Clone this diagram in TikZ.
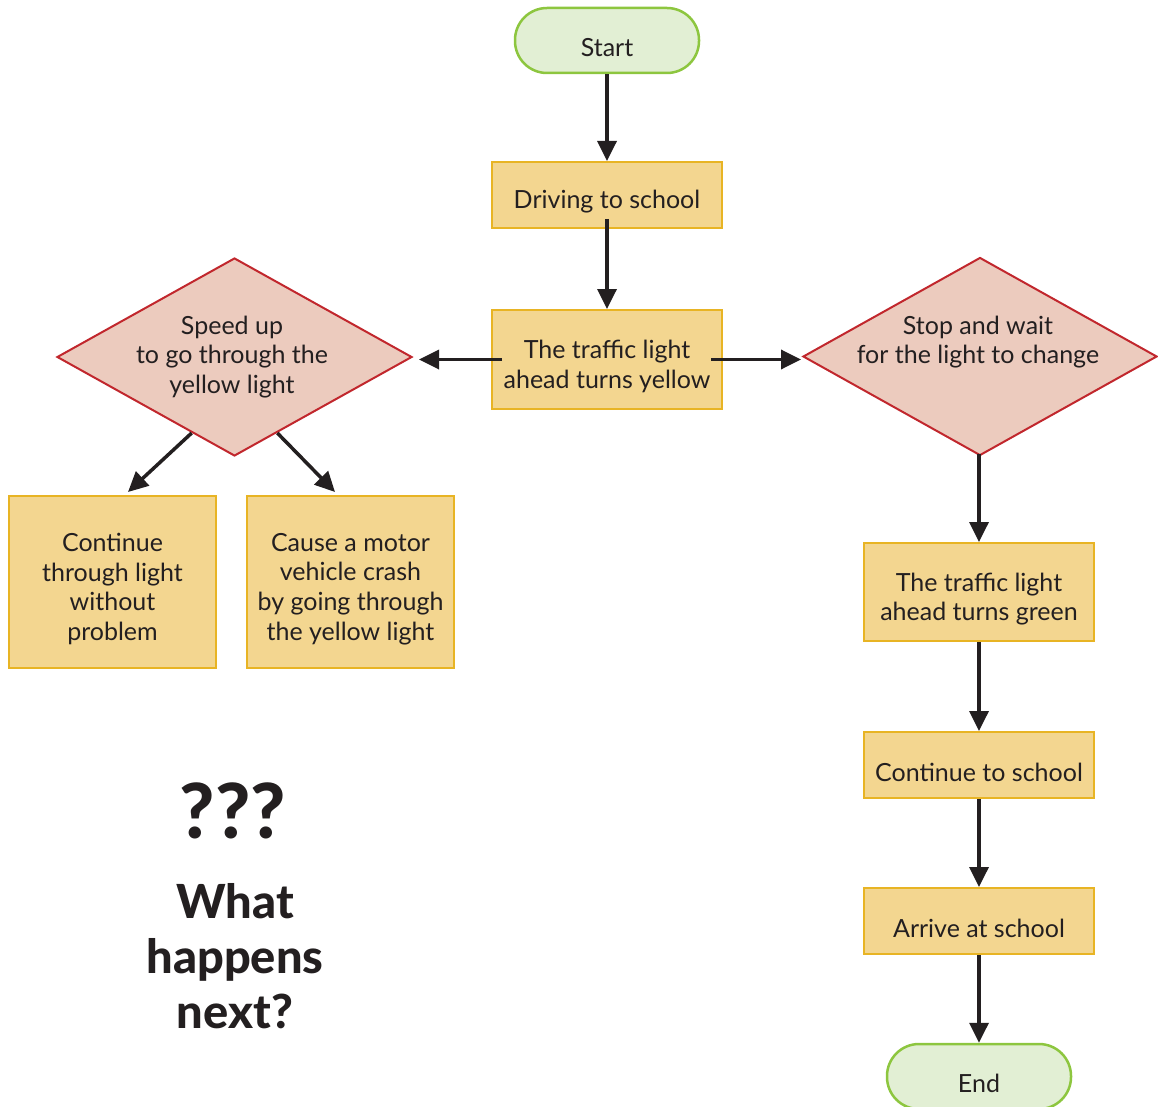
\documentclass[tikz,border=0pt]{standalone}
\usepackage{fontspec}
\setmainfont{Lato}
\newfontfamily\heavyfont{Lato Heavy}
\usetikzlibrary{shapes.geometric,arrows.meta,calc}
\definecolor{txt}{HTML}{231F20}
\definecolor{termfill}{HTML}{E2EFD4}
\definecolor{termline}{HTML}{8DC63F}
\definecolor{boxfill}{HTML}{F3D690}
\definecolor{boxline}{HTML}{E8B424}
\definecolor{diafill}{HTML}{ECCBBE}
\definecolor{dialine}{HTML}{C1272D}
\begin{document}
\begin{tikzpicture}[x=1pt,y=-1pt,
  every node/.style={text=txt, font=\fontsize{25}{29.7}\selectfont},
  lbl/.style={align=center, inner sep=0pt, yshift=-7pt},
  term/.style={draw=termline, fill=termfill, line width=2.5pt, rounded corners=32pt, minimum width=184pt, minimum height=65pt, inner sep=0pt},
  procbox/.style={draw=boxline, fill=boxfill, line width=2pt, minimum width=230pt, inner sep=0pt},
  decbox/.style={draw=dialine, fill=diafill, line width=2pt, diamond, inner sep=0pt, minimum width=355pt, minimum height=198pt},
  dtext/.style={align=center, inner sep=0pt},
  conn/.style={draw=txt, line width=3.5pt, -{Triangle[length=20pt,width=19pt]}},
  big/.style={font=\fontsize{47}{55}\heavyfont, align=center, inner sep=0pt}
]
\useasboundingbox (0,0) rectangle (1158,1107);

\node[term, label={[lbl]center:Start}] (start) at (607,40.5) {};
\node[procbox, minimum height=66pt, label={[lbl]center:Driving to school}] (drv) at (607,195) {};
\node[procbox, minimum height=99pt, label={[lbl]center:{The traffic light\\ahead turns yellow}}] (tly) at (607,359.5) {};

\node[decbox] (d1) at (234.5,357) {};
\node[dtext] (d1t) at (232,357) {Speed up\\to go through the\\yellow light};

\node[decbox, minimum width=354pt] (d2) at (980,356.5) {};
\node[dtext] (d2t) at (978,342) {Stop and wait\\for the light to change};

\node[procbox, minimum width=207pt, minimum height=172pt, label={[lbl]center:{Continue\\through light\\without\\problem}}] (c1) at (112.5,582) {};
\node[procbox, minimum width=207pt, minimum height=172pt, label={[lbl]center:{Cause a motor\\vehicle crash\\by going through\\the yellow light}}] (c2) at (350.5,582) {};

\node[procbox, minimum height=98pt, label={[lbl]center:{The traffic light\\ahead turns green}}] (grn) at (979,592) {};
\node[procbox, minimum height=66pt, label={[lbl]center:Continue to school}] (cts) at (979,765) {};
\node[procbox, minimum height=66pt, label={[lbl]center:Arrive at school}] (arr) at (979,921) {};
\node[term, label={[lbl]center:End}] (end) at (979,1076.5) {};

\node[big, font=\fontsize{76}{76}\heavyfont] (qqq) at (233,811) {???};
\node[big] (next) at (235,956) {What\\happens\\next?};

\draw[conn] (start) -- (drv);
\draw[conn] ([yshift=10pt]drv.south) -- (tly);
\draw[conn] ([xshift=11pt]tly.west) -- ([xshift=6pt]tly.west -| d1.east);
\draw[conn] ([xshift=-12pt]tly.east) -- ([xshift=-1pt]tly.east -| d2.west);
\draw[conn] ($(d1.south)!0.24!(d1.west)$) -- ([xshift=15.5pt,yshift=3pt]c1.north);
\draw[conn] ($(d1.south)!0.24!(d1.east)$) -- ([xshift=-15.5pt,yshift=3pt]c2.north);
\draw[conn] ([yshift=3pt]d2.south -| grn.north) -- (grn);
\draw[conn] (grn) -- (cts);
\draw[conn] (cts) -- (arr);
\draw[conn] (arr) -- (end);
\end{tikzpicture}
\end{document}
